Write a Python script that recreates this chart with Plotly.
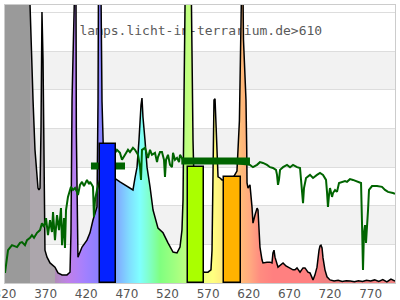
import plotly.graph_objects as go

# ---------------- data ----------------
spec_nm = [320, 350, 350.8, 352.0, 353.2, 354.5, 356.9, 359.4, 360.6, 361.8, 363.1, 364.3, 365.5, 366.8,
           368.0, 369.2, 371.7, 375.4, 381.5, 385.2, 390.2, 396.3, 400.0, 401.2, 402.5, 404.0, 407.2,
           407.8, 408.6, 409.8, 414.8, 420.9, 424.6, 428.3, 433.2, 434.5, 435.3, 437.5, 439.4, 441.8,
           446.8, 451.7, 456.6, 461.5, 467.7, 473.8, 477.5, 480.0, 482.5, 484.9, 486.2, 487.4, 488.6,
           489.8, 492.3, 494.8, 498.5, 502.2, 508.3, 514.5, 520.6, 526.8, 531.7, 535.4, 537.8, 539.1,
           540.3, 541.5, 542.5, 548.5, 549.5, 550.2, 551.4, 553.8, 557.5, 561.2, 564.9, 569.8, 573.5,
           574.8, 576.0, 577.2, 578.5, 579.7, 580.9, 582.2, 584.6, 587.1, 589.6, 594.5, 600.6, 605.5,
           608.5, 609.9, 612.2, 613.5, 614.8, 616.6, 617.5, 617.9, 619.1, 621.5, 624.0, 625.2, 627.7,
           630.2, 631.4, 632.6, 633.8, 636.3, 637.5, 642.5, 646.2, 648.6, 649.8, 651.1, 652.3, 656.0,
           659.7, 662.2, 665.8, 670.8, 674.5, 676.9, 679.4, 683.1, 686.8, 689.2, 692.9, 695.4, 699.1,
           701.5, 704.0, 706.5, 707.7, 708.9, 710.2, 711.4, 713.8, 716.3, 720.0, 725, 730, 735, 740,
           745, 750, 755, 760, 765, 770, 775, 780, 785, 790, 795, 800]
spec_val = [9, 9, 7.2, 6.30, 5.52, 4.74, 3.45, 2.80, 2.46, 2.41, 2.46, 3.96, 7.02, 5.78,
            3.45, 0.85, 0.67, 0.52, 0.41, 0.26, 0.21, 0.21, 0.28, 1.30, 4.74, 9, 9,
            3.89, 2.15, 0.67, 0.93, 1.11, 1.30, 1.63, 1.97, 4.74, 9, 9, 4.7, 2.9,
            2.8, 2.75, 2.69, 2.62, 2.54, 2.46, 2.41, 2.72, 3.0, 3.70, 4.22, 4.61, 4.79,
            4.30, 3.70, 3.0, 2.49, 1.89, 1.42, 1.30, 1.04, 0.80, 0.78, 0.93, 1.37, 2.15,
            4.74, 7.2, 9, 9, 6.81, 5.34, 3.7, 1.6, 0.7, 0.39, 0.28, 0.28, 0.34,
            0.85, 3.45, 4.74, 4.77, 4.22, 3.45, 2.75, 2.72, 2.67, 2.67, 2.6, 2.72, 2.9,
            4.2, 9, 9, 6.30, 5.52, 4.74, 3.45, 2.59, 2.46, 2.54, 1.97, 1.55, 1.76,
            1.94, 1.89, 1.37, 0.93, 0.60, 0.52, 0.54, 0.54, 0.52, 0.78, 0.85, 0.67, 0.41,
            0.49, 0.52, 0.44, 0.39, 0.34, 0.34, 0.39, 0.28, 0.39, 0.39, 0.28, 0.26, 0.08,
            0.21, 0.41, 0.85, 0.96, 0.98, 0.91, 0.65, 0.34, 0.16, 0.08, 0.05, 0.07, 0.04, 0.06,
            0.05, 0.03, 0.06, 0.04, 0.07, 0.05, 0.08, 0.04, 0.09, 0.03, 0.10, 0.05]

ref_nm = [320.0, 323.7, 328.6, 334.8, 338.5, 340.9, 344.6, 347.1, 350.8, 353.2, 355.7, 359.4, 363.1,
          365.5, 368.0, 370.5, 372.9, 375.4, 377.8, 379.1, 381.5, 384.0, 386.5, 388.9, 390.2, 392.6,
          393.8, 395.1, 397.5, 400.0, 401.2, 403.7, 406.2, 408.6, 409.8, 412.3, 414.8, 417.2, 420.9,
          423.4, 424.6, 427.1, 428.3, 429.5, 430.8, 433.2, 436.9, 446.8, 456.6, 457.8, 461.5, 464.0,
          467.7, 471.4, 473.8, 477.5, 480.0, 483.7, 486.2, 487.4, 488.6, 492.3, 494.8, 496.0, 498.5,
          500.9, 504.6, 507.1, 508.3, 510.8, 513.2, 515.7, 516.9, 518.2, 520.6, 523.1, 525.5, 526.8,
          529.2, 531.7, 534.2, 535.4, 539.1, 580.0, 621.5, 625.2, 630.2, 633.8, 637.5, 642.5, 646.2,
          649.8, 653.5, 654.8, 656.0, 657.2, 658.5, 662.2, 667.1, 670.8, 674.5, 679.4, 683.1, 685.5,
          686.8, 688.0, 690.5, 695.4, 699.1, 704.0, 707.7, 711.4, 715.1, 716.3, 717.5, 718.8, 720.0,
          722.5, 723.7, 726.2, 728.6, 731.1, 734.8, 738.5, 740.9, 744.6, 748.3, 752.0, 754.5, 758.2,
          759.4, 760.6, 761.8, 763.1, 764.3, 765.5, 766.8, 768.0, 771.7, 777.8, 784.0, 787.7, 791.4,
          797.5, 800]
ref_val = [0.26, 0.85, 0.98, 0.93, 1.04, 1.06, 0.98, 1.11, 1.17, 1.24, 1.17, 1.30, 1.37,
           1.55, 1.45, 1.68, 1.24, 1.63, 1.32, 1.84, 1.11, 1.76, 1.37, 1.94, 0.98, 1.68,
           0.91, 1.89, 2.23, 2.46, 2.49, 2.41, 2.46, 2.36, 2.28, 2.54, 2.62, 2.51, 2.67,
           2.56, 2.62, 2.54, 2.49, 1.71, 2.15, 2.41, 2.67, 3.06, 3.39, 3.45, 3.37, 3.19,
           3.32, 3.45, 3.39, 3.50, 3.45, 3.32, 3.0, 2.67, 3.45, 3.50, 3.32, 3.24, 3.45,
           3.32, 3.37, 3.13, 3.26, 3.39, 3.39, 3.19, 2.75, 3.19, 3.32, 3.06, 3.0, 3.37,
           3.19, 3.24, 3.13, 3.32, 3.19, 3.16, 3.06, 3.0, 3.06, 3.13, 3.11, 3.06, 3.0,
           2.98, 2.93, 2.80, 2.54, 2.67, 2.93, 3.0, 3.06, 3.0, 3.06, 3.0, 2.98, 2.49,
           2.07, 2.46, 2.72, 2.80, 2.72, 2.80, 2.85, 2.80, 2.67, 2.36, 1.97, 2.28, 2.46,
           2.23, 2.33, 2.41, 2.36, 2.59, 2.62, 2.64, 2.62, 2.69, 2.67, 2.64, 2.62, 2.59,
           1.55, 0.34, 1.30, 1.50, 1.04, 1.37, 1.89, 2.41, 2.51, 2.51, 2.49, 2.41, 2.36,
           2.33, 2.31]

seg_start = [425.8, 537.0]
seg_end = [467.7, 621.5]
seg_level = [3.03, 3.16]

bar_center = [447, 555, 600]
bar_width = [20, 20, 21]
bar_height = [3.60, 3.00, 2.75]
bar_colors = ['#0522ff', '#aaff00', '#ffb300']

tick_vals = [320, 370, 420, 470, 520, 570, 620, 670, 720, 770]
tick_text = ['320', '370', '420', '470', '520', '570', '620', '670', '720', '770']

title_text = 'lamps.licht-in-terrarium.de>610'

# -------------- styling -----------------
X0, X1 = 320, 800
grad_nm = [320, 350.8, 350.9, 381.5, 381.6, 390, 398, 410, 420, 435, 446, 457, 474, 486, 496, 511,
           529, 545, 565, 576, 590, 605, 612, 622, 634, 650, 700, 712, 800]
grad_col = ['#9a9a9a', '#9a9a9a', '#aca6ac', '#aca6ac', '#b08ab8', '#b888d4', '#c080e8', '#b080f8',
            '#a080ff', '#8c80ff', '#8092ff', '#80a8ff', '#80e0ff', '#80ffff', '#80ffd0', '#80ff80',
            '#a0ff80', '#c0ff80', '#f0ff80', '#ffff80', '#ffe880', '#ffcc80', '#ffb878', '#ffa880',
            '#ff8c80', '#ff8080', '#ff8080', '#f08080', '#f08080']
colorscale = [[(n - X0) / (X1 - X0), c] for n, c in zip(grad_nm, grad_col)]

fig = go.Figure()

# title text (below data)
fig.add_trace(go.Scatter(x=[561], y=[6.5], mode='text', text=[title_text],
                         textposition='middle center',
                         textfont=dict(family='DejaVu Sans Mono', size=13, color='#5a5a5a'),
                         hoverinfo='skip', showlegend=False))

# spectrum with gradient fill
fig.add_trace(go.Scatter(x=spec_nm, y=spec_val, mode='lines', fill='tozeroy',
                         fillgradient=dict(type='horizontal', colorscale=colorscale, start=X0, stop=X1),
                         line=dict(color='black', width=1.5), showlegend=False))

# reference curve
fig.add_trace(go.Scatter(x=ref_nm, y=ref_val, mode='lines',
                         line=dict(color='#006400', width=2), showlegend=False))

# thick segments
sx, sy = [], []
for a, b, l in zip(seg_start, seg_end, seg_level):
    sx += [a, b, None]
    sy += [l, l, None]
fig.add_trace(go.Scatter(x=sx, y=sy, mode='lines', line=dict(color='#006400', width=7),
                         showlegend=False))

# bars on overlaying axes so they draw above lines
fig.add_trace(go.Bar(x=bar_center, y=bar_height, width=bar_width,
                     marker=dict(color=bar_colors, line=dict(color='black', width=1.5)),
                     xaxis='x2', yaxis='y2', showlegend=False))

shapes = []
for lo in [1, 3, 5]:
    shapes.append(dict(type='rect', xref='paper', yref='y', x0=0, x1=1, y0=lo, y1=lo + 1,
                       fillcolor='#f2f2f2', line=dict(width=0), layer='below'))

fig.update_layout(
    width=400, height=300,
    margin=dict(l=5, r=5, t=5, b=17, autoexpand=False),
    paper_bgcolor='white', plot_bgcolor='white',
    shapes=shapes,
    xaxis=dict(range=[X0, X1], tickvals=tick_vals, ticktext=tick_text, showgrid=False,
               zeroline=False, showline=True, mirror=True, linecolor='#cccccc', ticks='',
               tickfont=dict(family='DejaVu Sans', size=12, color='#555555'),
               ticklabeloverflow='allow', automargin=False),
    yaxis=dict(range=[0, 7.2], tickvals=[0, 1, 2, 3, 4, 5, 6, 7], showticklabels=False,
               showgrid=True, gridcolor='#dddddd', gridwidth=1, zeroline=False,
               showline=True, mirror=True, linecolor='#cccccc', ticks='', automargin=False),
    xaxis2=dict(range=[X0, X1], overlaying='x', visible=False),
    yaxis2=dict(range=[0, 7.2], overlaying='y', visible=False),
    bargap=0,
)

fig.write_html('out.html')
